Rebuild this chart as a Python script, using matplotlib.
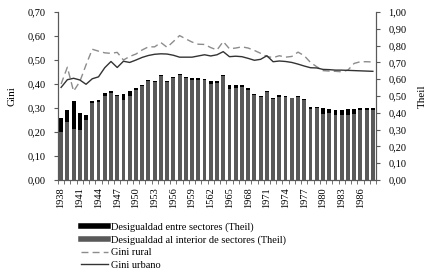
import numpy as np
import matplotlib
matplotlib.use("Agg")
import matplotlib.pyplot as plt
from matplotlib.lines import Line2D
from matplotlib.ticker import FuncFormatter

plt.rcParams['font.family'] = ['Liberation Serif', 'DejaVu Serif']

# Datos
years = list(range(1938, 1989))
year_labels = [str(y) for y in years]
year_labels[24] = "1562"  # tal como aparece en el original

theil_total = [0.367, 0.418, 0.468, 0.400, 0.388, 0.470, 0.474, 0.516, 0.532, 0.508,
               0.515, 0.528, 0.546, 0.565, 0.595, 0.589, 0.625, 0.590, 0.615, 0.629,
               0.611, 0.608, 0.605, 0.603, 0.590, 0.591, 0.624, 0.564, 0.565, 0.565,
               0.546, 0.515, 0.502, 0.532, 0.490, 0.506, 0.500, 0.491, 0.500, 0.481,
               0.433, 0.436, 0.428, 0.422, 0.415, 0.415, 0.420, 0.420, 0.427, 0.428,
               0.427]
theil_entre = [0.080, 0.070, 0.165, 0.100, 0.030, 0.010, 0.008, 0.015, 0.015, 0.010,
               0.040, 0.025, 0.010, 0.005, 0.005, 0.005, 0.005, 0.005, 0.005, 0.005,
               0.005, 0.010, 0.010, 0.010, 0.020, 0.015, 0.005, 0.020, 0.015, 0.010,
               0.010, 0.010, 0.005, 0.010, 0.005, 0.010, 0.005, 0.005, 0.005, 0.005,
               0.010, 0.010, 0.035, 0.025, 0.030, 0.030, 0.030, 0.025, 0.012, 0.010,
               0.010]
gini_rural = [0.400, 0.470, 0.370, 0.410, 0.480, 0.545, 0.537, 0.530, 0.528, 0.532,
              0.500, 0.515, 0.525, 0.542, 0.555, 0.555, 0.573, 0.553, 0.577, 0.602,
              0.588, 0.575, 0.566, 0.565, 0.552, 0.542, 0.577, 0.547, 0.550, 0.555,
              0.550, 0.540, 0.528, 0.515, 0.510, 0.518, 0.512, 0.515, 0.533, 0.518,
              0.490, 0.472, 0.456, 0.454, 0.453, 0.451, 0.458, 0.486, 0.493, 0.493,
              0.492]
gini_urbano = [0.386, 0.418, 0.424, 0.417, 0.399, 0.422, 0.430, 0.468, 0.494, 0.469,
               0.495, 0.490, 0.500, 0.511, 0.519, 0.524, 0.526, 0.525, 0.520, 0.512,
               0.512, 0.512, 0.517, 0.522, 0.517, 0.522, 0.535, 0.514, 0.516, 0.514,
               0.507, 0.499, 0.503, 0.518, 0.493, 0.496, 0.494, 0.490, 0.483, 0.475,
               0.468, 0.467, 0.461, 0.460, 0.458, 0.458, 0.457, 0.456, 0.455, 0.454,
               0.453]

theil_interior = [t - e for t, e in zip(theil_total, theil_entre)]
x = np.arange(len(years))

fig = plt.figure(figsize=(4.34, 2.74), dpi=100)
ax = fig.add_axes([0.1336, 0.343, 0.7327, 0.613])
ax2 = ax.twinx()

# barras en el eje Theil (derecha)
ax2.bar(x, theil_interior, width=0.62, color='#595959', zorder=2)
ax2.bar(x, theil_entre, width=0.62, bottom=theil_interior, color='black', zorder=2)

# lineas Gini (izquierda) por encima de las barras
ax.set_zorder(ax2.get_zorder() + 1)
ax.patch.set_visible(False)
ax.plot(x, gini_rural, color='#8c8c8c', lw=1.0, dashes=(5, 3))
ax.plot(x, gini_urbano, color='#333333', lw=1.0)

ax.set_xlim(-0.5, len(years) - 0.5)
ax.set_ylim(0, 0.70)
ax2.set_ylim(0, 1.0)
ax.set_yticks(np.arange(0, 0.701, 0.10))
ax2.set_yticks(np.arange(0, 1.001, 0.10))
fmt = FuncFormatter(lambda v, p: f"{v:.2f}".replace('.', ','))
ax.yaxis.set_major_formatter(fmt)
ax2.yaxis.set_major_formatter(fmt)

ax.set_xticks(x[::3])
ax.set_xticklabels(year_labels[::3], rotation=90)
ax.set_xticks(np.arange(-0.5, len(years)), minor=True)
ax.tick_params(axis='x', which='major', length=0, pad=5, labelsize=7.5)
ax.tick_params(axis='x', which='minor', length=3, color='#595959')
ax.tick_params(axis='y', length=3, labelsize=7.5, color='#595959', pad=6)
ax2.tick_params(axis='y', length=3, labelsize=7.5, color='#595959', pad=6)

for a in (ax, ax2):
    a.spines['top'].set_visible(False)
    for s in ('left', 'right', 'bottom'):
        a.spines[s].set_color('#595959')
        a.spines[s].set_linewidth(0.8)

ax.set_ylabel('Gini', fontsize=8, labelpad=8)
ax2.set_ylabel('Theil', fontsize=8, labelpad=8)

handles = [
    Line2D([], [], color='black', lw=4),
    Line2D([], [], color='#595959', lw=4),
    Line2D([], [], color='#8c8c8c', lw=1.0, dashes=(5, 3)),
    Line2D([], [], color='#333333', lw=1.0),
]
labels = ['Desigualdad entre sectores (Theil)',
          'Desigualdad al interior de sectores (Theil)',
          'Gini rural', 'Gini urbano']
fig.legend(handles, labels, loc='upper left', bbox_to_anchor=(0.186, 0.188),
           frameon=False, fontsize=7.5, handlelength=2.6, handletextpad=0.35,
           labelspacing=0.3, borderpad=0, borderaxespad=0)

fig.savefig('out.png', dpi=100)
